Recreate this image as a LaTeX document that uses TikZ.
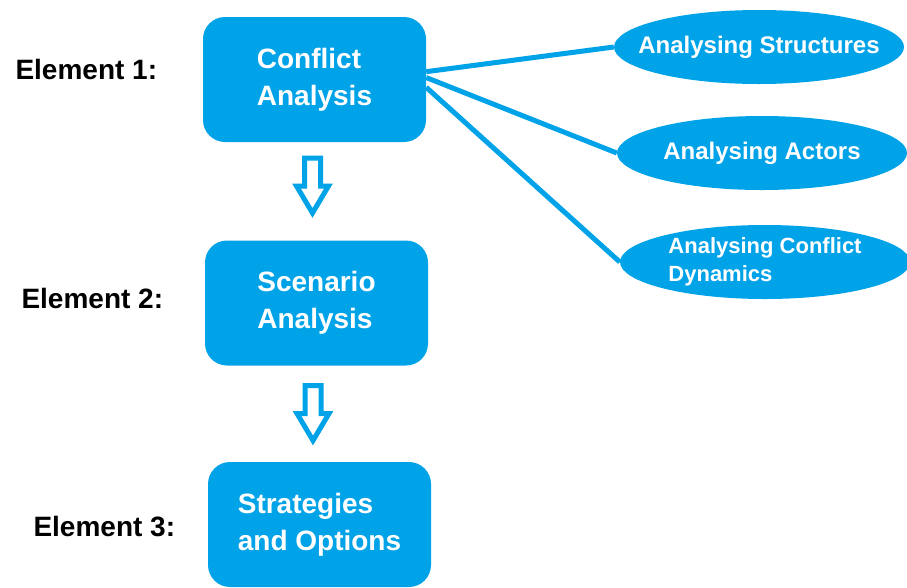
\documentclass[tikz,border=0pt]{standalone}
\usepackage{fontspec}
\setmainfont{Liberation Sans}
\usepackage{xcolor}
\definecolor{paintblue}{RGB}{0,162,232}
\usetikzlibrary{shapes.geometric}

\begin{document}
\begin{tikzpicture}[x=1pt, y=-1pt,
  box/.style={fill=paintblue, rounded corners=22pt, minimum width=223pt, minimum height=125pt,
    text=white, align=left, font=\fontsize{28}{37}\selectfont\bfseries},
  oval/.style={ellipse, fill=paintblue, minimum width=290pt, minimum height=74pt,
    inner xsep=-25pt, inner ysep=0pt, text=white, align=left},
  elemtext/.style={anchor=base west, font=\fontsize{28}{34}\selectfont\bfseries},
  link/.style={paintblue, line width=5pt},
  hollow/.style={draw=paintblue, fill=white, line width=5pt, line join=miter},
  downarrow/.pic={\draw[hollow] (-8,0) -- (8,0) -- (8,28) -- (16,28) -- (0,55)
    -- (-16,28) -- (-8,28) -- cycle;}]
  \useasboundingbox (0,0) rectangle (907,587);
  %% Element labels
  \node[elemtext] (elem1) at (12,79) {Element 1:};
  \node[elemtext] (elem2) at (18,308) {Element 2:};
  \node[elemtext] (elem3) at (30,536) {Element 3:};
  %% Main boxes
  \node[box] (conflict) at (314.5,79.5) {Conflict\\Analysis};
  \node[box] (scenario) at (316.5,303) {Scenario\\Analysis};
  \node[box] (strategies) at (319.5,524.5) {Strategies\\and Options};
  %% Hollow arrows between the boxes
  \pic at (312.5,158) {downarrow};
  \pic at (313,385.5) {downarrow};
  %% Sub-analyses of element 1
  \node[oval, font=\fontsize{24}{28}\selectfont\bfseries] (structures) at (759,47) {Analysing Structures};
  \node[oval, font=\fontsize{24}{28}\selectfont\bfseries] (actors) at (762,153) {Analysing Actors};
  \node[oval, font=\fontsize{22}{28}\selectfont\bfseries] (dynamics) at (765,262) {Analysing Conflict\\Dynamics};
  \draw[link] (conflict.4) -- (structures.west);
  \draw[link] (conflict.1) -- (actors.west);
  \draw[link] (conflict.-4) -- (dynamics.west);
\end{tikzpicture}
\end{document}
